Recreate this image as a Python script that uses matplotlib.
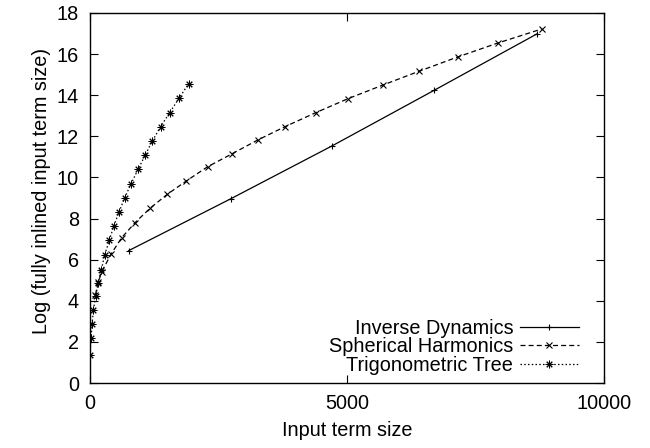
import numpy as np
import matplotlib.pyplot as plt

plt.rcParams['font.family'] = ['Liberation Sans', 'DejaVu Sans']

# Inverse Dynamics
inv_x = [752, 2737, 4714, 6698, 8696]
inv_y = [6.44, 8.96, 11.54, 14.24, 16.98]

# Spherical Harmonics
sph_x = [105, 160, 227, 409, 616, 876, 1167, 1504, 1868, 2288, 2763, 3263,
         3794, 4391, 5019, 5694, 6407, 7154, 7938, 8788]
sph_y = [4.30, 4.90, 5.41, 6.27, 7.07, 7.80, 8.50, 9.18, 9.82, 10.52, 11.15, 11.82,
         12.47, 13.15, 13.83, 14.49, 15.17, 15.86, 16.54, 17.22]

# Trigonometric Tree
tri_x = [0, 20, 40, 65, 110, 160, 220, 285, 376, 460, 564, 675, 798, 934,
         1070, 1212, 1374, 1549, 1731, 1919]
tri_y = [1.38, 2.18, 2.86, 3.54, 4.23, 4.87, 5.50, 6.23, 6.94, 7.62, 8.32, 9.01,
         9.69, 10.39, 11.07, 11.77, 12.47, 13.15, 13.85, 14.56]

FS = 14.3

fig = plt.figure(figsize=(6.5, 4.48), dpi=100)
ax = fig.add_axes([0.1385, 0.145, 0.7905, 0.826])

ax.plot(inv_x, inv_y, color='black', lw=0.9, ls='-', marker='+', ms=5,
        mew=0.8, label='Inverse Dynamics')
ax.plot(sph_x, sph_y, color='black', lw=0.9, ls=(0, (4, 2.5)), marker='x', ms=4.5,
        mew=0.8, label='Spherical Harmonics')
ax.plot(tri_x, tri_y, color='black', lw=0.9, ls=(0, (1.2, 1.8)), marker=(8, 2, 0),
        ms=5.5, mew=0.7, label='Trigonometric Tree')

ax.set_xlim(0, 10000)
ax.set_ylim(0, 18)
ax.set_xticks([0, 5000, 10000])
ax.set_yticks(np.arange(0, 19, 2))
ax.tick_params(direction='in', top=True, right=True, length=6, width=0.8,
               labelsize=FS, pad=8)
for s in ax.spines.values():
    s.set_linewidth(1.0)

ax.set_xlabel('Input term size', fontsize=FS, labelpad=6)
ax.set_ylabel('Log (fully inlined input term size)', fontsize=FS, labelpad=4)
ax.yaxis.label.set_y(0.52)

ax.legend(loc='lower right', markerfirst=False, frameon=False, fontsize=FS,
          handlelength=2.95, labelspacing=-0.03, handletextpad=0.35,
          borderaxespad=0, borderpad=0, bbox_to_anchor=(0.951, 0.023))

fig.savefig('out.png', dpi=100)
